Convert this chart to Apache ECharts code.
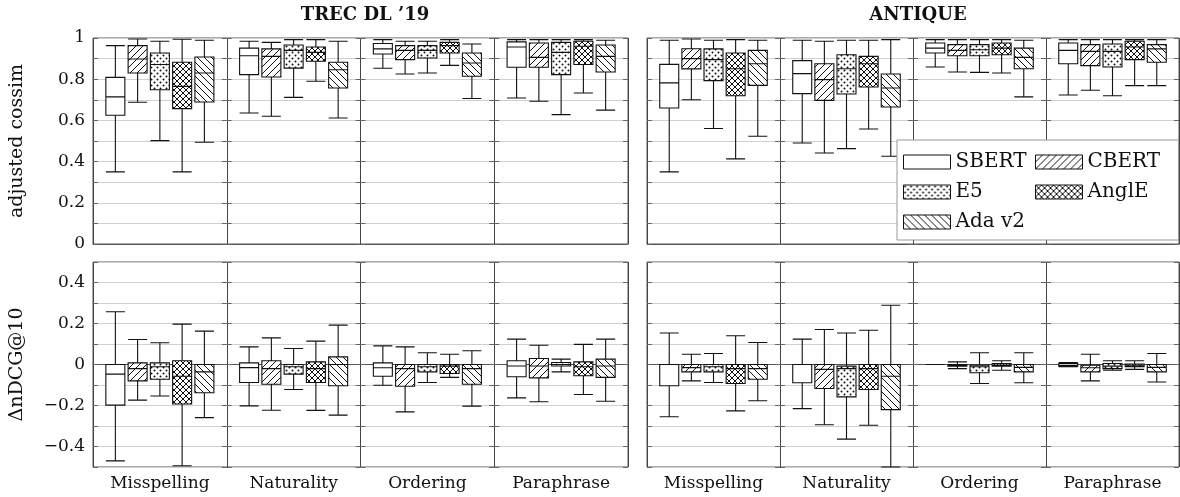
<!DOCTYPE html>
<html><head><meta charset="utf-8">
<script src="https://cdn.jsdelivr.net/npm/echarts@6/dist/echarts.min.js"></script>
<style>html,body{margin:0;padding:0;background:#fff}#c{width:1180px;height:497px}</style>
</head><body><div id="c"></div><script>
// ---- data: each row is [min, Q1, median, Q3, max] for Misspelling, Naturality, Ordering, Paraphrase
const categories = ['Misspelling', 'Naturality', 'Ordering', 'Paraphrase'];
const models = ['SBERT', 'CBERT', 'E5', 'AnglE', 'Ada v2'];
const panelTitles = ['TREC DL \u201919', 'ANTIQUE'];
const yNames = ['adjusted cossim', '\u0394nDCG@10'];

const trecCossim = [
  [[0.35,0.625,0.714,0.809,0.963],[0.636,0.822,0.914,0.951,0.984],[0.853,0.922,0.947,0.973,0.992],[0.709,0.858,0.956,0.981,0.992]],
  [[0.688,0.83,0.898,0.963,0.995],[0.62,0.811,0.911,0.947,0.979],[0.825,0.895,0.94,0.963,0.984],[0.693,0.858,0.906,0.976,0.992]],
  [[0.502,0.749,0.871,0.927,0.984],[0.712,0.854,0.94,0.966,0.992],[0.83,0.903,0.94,0.963,0.984],[0.628,0.822,0.93,0.979,0.992]],
  [[0.35,0.657,0.765,0.882,0.994],[0.79,0.887,0.93,0.956,0.992],[0.867,0.927,0.963,0.979,0.992],[0.733,0.871,0.96,0.984,0.992]],
  [[0.494,0.689,0.83,0.908,0.989],[0.612,0.757,0.846,0.882,0.984],[0.706,0.814,0.879,0.927,0.971],[0.65,0.835,0.911,0.966,0.989]]
];
const antiqueCossim = [
  [[0.35,0.66,0.782,0.872,0.989],[0.49,0.73,0.827,0.89,0.989],[0.859,0.927,0.951,0.976,0.992],[0.723,0.875,0.94,0.976,0.992]],
  [[0.7,0.85,0.9,0.948,0.995],[0.442,0.697,0.798,0.875,0.984],[0.835,0.914,0.94,0.968,0.992],[0.746,0.866,0.935,0.968,0.992]],
  [[0.561,0.793,0.895,0.947,0.989],[0.463,0.728,0.851,0.919,0.989],[0.833,0.914,0.943,0.968,0.992],[0.72,0.859,0.935,0.971,0.992]],
  [[0.413,0.72,0.851,0.927,0.992],[0.558,0.762,0.875,0.911,0.989],[0.83,0.919,0.951,0.976,0.992],[0.769,0.895,0.956,0.984,0.992]],
  [[0.523,0.77,0.875,0.94,0.989],[0.426,0.665,0.757,0.825,0.992],[0.714,0.851,0.906,0.951,0.989],[0.769,0.882,0.947,0.968,0.992]]
];
const trecNdcg = [
  [[-0.47,-0.198,-0.047,0.0,0.257],[-0.202,-0.088,-0.015,0.008,0.086],[-0.101,-0.057,-0.016,0.008,0.091],[-0.163,-0.06,-0.007,0.018,0.124]],
  [[-0.174,-0.08,-0.02,0.008,0.122],[-0.223,-0.096,-0.02,0.018,0.13],[-0.231,-0.106,-0.02,0.0,0.086],[-0.182,-0.065,-0.007,0.029,0.094]],
  [[-0.154,-0.072,-0.011,0.008,0.106],[-0.122,-0.047,-0.011,0.0,0.078],[-0.088,-0.036,-0.011,0.0,0.057],[-0.036,-0.007,0.0,0.01,0.026]],
  [[-0.494,-0.193,-0.057,0.018,0.197],[-0.224,-0.088,-0.02,0.013,0.114],[-0.063,-0.044,-0.008,0.0,0.05],[-0.146,-0.055,-0.011,0.013,0.098]],
  [[-0.259,-0.138,-0.036,0.0,0.163],[-0.247,-0.104,0.0,0.037,0.192],[-0.203,-0.096,-0.02,0.0,0.067],[-0.179,-0.063,-0.007,0.026,0.124]]
];
const antiqueNdcg = [
  [[-0.255,-0.104,0.0,0.0,0.154],[-0.215,-0.089,0.0,0.0,0.124],[0.0,0.0,0.0,0.0,0.0],[-0.011,-0.008,-0.004,0.005,0.01]],
  [[-0.08,-0.036,-0.015,0.0,0.05],[-0.294,-0.117,-0.024,0.0,0.171],[-0.02,-0.008,-0.003,0.0,0.013],[-0.08,-0.036,-0.016,-0.003,0.05]],
  [[-0.088,-0.036,-0.011,0.0,0.054],[-0.364,-0.158,-0.02,-0.008,0.154],[-0.093,-0.04,-0.011,-0.003,0.057],[-0.028,-0.02,-0.008,0.005,0.018]],
  [[-0.226,-0.093,-0.02,0.0,0.14],[-0.296,-0.122,-0.02,0.0,0.167],[-0.028,-0.008,-0.003,0.005,0.018],[-0.024,-0.011,-0.006,0.002,0.018]],
  [[-0.177,-0.072,-0.02,0.0,0.107],[-0.5,-0.22,-0.057,0.0,0.289],[-0.089,-0.036,-0.014,0.0,0.057],[-0.085,-0.036,-0.014,0.0,0.054]]
];
const panels = [trecCossim, antiqueCossim, trecNdcg, antiqueNdcg];
const yRanges = [[0, 1], [0, 1], [-0.5, 0.5], [-0.5, 0.5]];

// ---- hatch patterns
function makePattern(kind) {
  const c = document.createElement('canvas');
  let s = 7;
  if (kind === 'dots') s = 6;
  if (kind === 'cross') s = 6;
  c.width = s; c.height = s;
  const g = c.getContext('2d');
  g.fillStyle = '#fff'; g.fillRect(0, 0, s, s);
  g.strokeStyle = '#111'; g.fillStyle = '#111'; g.lineWidth = 1;
  const ne = () => { for (let i = -1; i <= 1; i++) { g.beginPath(); g.moveTo(i * s, s); g.lineTo((i + 1) * s, 0); g.stroke(); } };
  const nw = () => { for (let i = -1; i <= 1; i++) { g.beginPath(); g.moveTo(i * s, 0); g.lineTo((i + 1) * s, s); g.stroke(); } };
  if (kind === 'ne') ne();
  if (kind === 'nw') nw();
  if (kind === 'cross') { ne(); nw(); }
  if (kind === 'dots') {
    g.beginPath(); g.arc(1.5, 1.5, 1.0, 0, Math.PI * 2); g.fill();
    g.beginPath(); g.arc(4.5, 4.5, 1.0, 0, Math.PI * 2); g.fill();
  }
  return { image: c, repeat: 'repeat' };
}
const fills = ['#ffffff', makePattern('ne'), makePattern('dots'), makePattern('cross'), makePattern('nw')];

const FONT = 'DejaVu Serif';
function fmt(v) {
  const k = Math.round(v * 10);
  if (k % 2 !== 0) return '';
  const x = k / 10;
  if (x === 0) return '0';
  if (x === 1) return '1';
  return (x < 0 ? '\u2212' : '') + Math.abs(x).toFixed(1);
}

const grids = [
  { left: 93, top: 38, width: 535, height: 206 },
  { left: 647, top: 38, width: 532, height: 206 },
  { left: 93, top: 262, width: 535, height: 205 },
  { left: 647, top: 262, width: 532, height: 205 }
].map(g => Object.assign(g, { show: true, borderColor: '#555', borderWidth: 1, backgroundColor: 'transparent' }));

const xAxes = grids.map((g, i) => ({
  type: 'category', gridIndex: i, data: categories, boundaryGap: true,
  axisLine: { show: true, lineStyle: { color: '#555' } },
  axisTick: { show: false },
  axisLabel: { show: i >= 2, fontFamily: FONT, fontSize: 17, color: '#111', margin: 8 },
  splitLine: { show: true, lineStyle: { color: '#444', width: 1 } }
}));
const yAxes = grids.map((g, i) => ({
  type: 'value', gridIndex: i, min: yRanges[i][0], max: yRanges[i][1], interval: 0.1,
  name: (i === 0 || i === 2) ? yNames[i / 2] : '',
  nameLocation: 'middle', nameGap: 66,
  nameTextStyle: { fontFamily: FONT, fontSize: 19, color: '#111' },
  axisLine: { show: false },
  axisTick: { show: true, inside: true, length: 5, lineStyle: { color: '#666' } },
  axisLabel: { show: (i === 0 || i === 2), formatter: fmt, fontFamily: FONT, fontSize: 17, color: '#111', margin: 8 },
  splitLine: { show: true, lineStyle: { color: '#cfcfcf', width: 1 } }
}));
// extra tick-only axes at each group separator and at the right edge of each panel
grids.forEach((g, i) => {
  const band = g.width / categories.length;
  const base = { type: 'value', gridIndex: i, min: yRanges[i][0], max: yRanges[i][1], interval: 0.1,
    axisLine: { show: false }, axisLabel: { show: false }, splitLine: { show: false } };
  for (let k = 1; k < categories.length; k++) {
    [true, false].forEach(inside => {
      yAxes.push(Object.assign({}, base, { position: 'left', offset: -band * k,
        axisTick: { show: true, inside: inside, length: 5, lineStyle: { color: '#666' } } }));
    });
  }
  yAxes.push(Object.assign({}, base, { position: 'right', offset: 0,
    axisTick: { show: true, inside: true, length: 5, lineStyle: { color: '#666' } } }));
});

const series = [];
panels.forEach((pd, p) => {
  models.forEach((m, k) => {
    series.push({
      type: 'boxplot', name: m, xAxisIndex: p, yAxisIndex: p,
      data: pd[k], boxWidth: [19, 19], silent: true,
      itemStyle: { color: fills[k], borderColor: '#111', borderWidth: 1.1 },
      emphasis: { disabled: true }
    });
  });
});

const legendItem = name => ({ name: name, itemStyle: { color: fills[models.indexOf(name)], borderColor: '#111', borderWidth: 1 } });
const legendText = { fontFamily: FONT, fontSize: 20, color: '#111' };

const chart = echarts.init(document.getElementById('c'), null, { renderer: 'canvas' });
chart.setOption({
  animation: false,
  backgroundColor: '#fff',
  title: [
    { text: panelTitles[0], left: 360, top: 1, textAlign: 'center', textStyle: { fontFamily: FONT, fontWeight: 'bold', fontSize: 18, color: '#111' } },
    { text: panelTitles[1], left: 913, top: 1, textAlign: 'center', textStyle: { fontFamily: FONT, fontWeight: 'bold', fontSize: 18, color: '#111' } }
  ],
  legend: [
    { data: ['SBERT', 'E5', 'Ada v2'].map(legendItem), orient: 'vertical', left: 897, top: 140, padding: [12, 152, 8, 6],
      itemGap: 10, itemWidth: 47, itemHeight: 14, icon: 'rect', selectedMode: false,
      backgroundColor: '#fff', borderColor: '#999', borderWidth: 1,
      textStyle: legendText, z: 10 },
    { data: ['CBERT', 'AnglE'].map(legendItem), orient: 'vertical', left: 1035, top: 152, padding: 0,
      itemGap: 10, itemWidth: 47, itemHeight: 14, icon: 'rect', selectedMode: false,
      textStyle: legendText, z: 11 }
  ],
  grid: grids, xAxis: xAxes, yAxis: yAxes, series: series
});
</script></body></html>
